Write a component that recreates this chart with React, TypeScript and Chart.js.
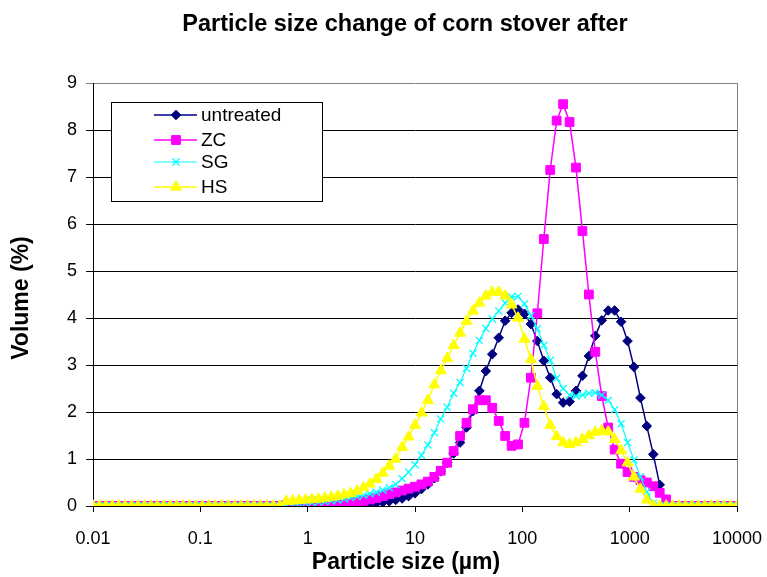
import React, { useEffect, useRef } from 'react';
import { Chart, registerables } from 'chart.js';

Chart.register(...registerables);

// Particle size classes (µm)
const SIZES = [
  0.01, 0.01148, 0.01318, 0.01514, 0.01738, 0.01995, 0.02291, 0.0263, 0.0302, 0.03467,
  0.03981, 0.04571, 0.05248, 0.06026, 0.06918, 0.07943, 0.0912, 0.1047, 0.1202, 0.138,
  0.1585, 0.182, 0.2089, 0.2399, 0.2754, 0.3162, 0.3631, 0.4169, 0.4786, 0.5495,
  0.631, 0.7244, 0.8318, 0.955, 1.096, 1.259, 1.445, 1.66, 1.905, 2.188,
  2.512, 2.884, 3.311, 3.802, 4.365, 5.012, 5.754, 6.607, 7.586, 8.71,
  10, 11.48, 13.18, 15.14, 17.38, 19.95, 22.91, 26.3, 30.2, 34.67,
  39.81, 45.71, 52.48, 60.26, 69.18, 79.43, 91.2, 104.7, 120.2, 138,
  158.5, 182, 208.9, 239.9, 275.4, 316.2, 363.1, 416.9, 478.6, 549.5,
  631, 724.4, 831.8, 955, 1096, 1259, 1445, 1660, 1905, 2188,
  2512, 2884, 3311, 3802, 4365, 5012, 5754, 6607, 7586, 8710,
  10000,
];

const UNTREATED = [
  0, 0, 0, 0, 0, 0, 0, 0, 0, 0,
  0, 0, 0, 0, 0, 0, 0, 0, 0, 0,
  0, 0, 0, 0, 0, 0, 0, 0, 0, 0,
  0, 0, 0, 0, 0, 0, 0, 0, 0.01, 0.01,
  0.02, 0.03, 0.04, 0.05, 0.06, 0.08, 0.1, 0.13, 0.16, 0.21,
  0.27, 0.36, 0.46, 0.59, 0.74, 0.92, 1.12, 1.35, 1.67, 2.02,
  2.45, 2.87, 3.23, 3.58, 3.94, 4.11, 4.18, 4.09, 3.87, 3.51,
  3.09, 2.73, 2.38, 2.2, 2.22, 2.45, 2.77, 3.19, 3.62, 3.95,
  4.16, 4.16, 3.92, 3.51, 2.96, 2.3, 1.7, 1.1, 0.45, 0,
  0, 0, 0, 0, 0, 0, 0, 0, 0, 0,
  0,
];

const ZC = [
  0, 0, 0, 0, 0, 0, 0, 0, 0, 0,
  0, 0, 0, 0, 0, 0, 0, 0, 0, 0,
  0, 0, 0, 0, 0, 0, 0, 0, 0, 0,
  0.02, 0.02, 0.03, 0.03, 0.03, 0.04, 0.04, 0.04, 0.05, 0.06,
  0.07, 0.09, 0.11, 0.14, 0.17, 0.21, 0.25, 0.29, 0.33, 0.37,
  0.41, 0.46, 0.52, 0.62, 0.75, 0.92, 1.17, 1.49, 1.77, 2.06,
  2.25, 2.25, 2.09, 1.81, 1.49, 1.28, 1.31, 1.77, 2.73, 4.1,
  5.68, 7.15, 8.2, 8.55, 8.17, 7.2, 5.85, 4.5, 3.28, 2.34,
  1.67, 1.2, 0.9, 0.72, 0.62, 0.55, 0.5, 0.42, 0.28, 0.14,
  0, 0, 0, 0, 0, 0, 0, 0, 0, 0,
  0,
];

const SG = [
  0, 0, 0, 0, 0, 0, 0, 0, 0, 0,
  0, 0, 0, 0, 0, 0, 0, 0, 0, 0,
  0, 0, 0, 0, 0, 0, 0, 0, 0, 0,
  0.03, 0.04, 0.05, 0.06, 0.07, 0.08, 0.09, 0.11, 0.13, 0.15,
  0.18, 0.2, 0.23, 0.26, 0.29, 0.34, 0.39, 0.46, 0.58, 0.72,
  0.88, 1.08, 1.3, 1.56, 1.85, 2.1, 2.4, 2.63, 2.93, 3.25,
  3.52, 3.78, 3.98, 4.15, 4.32, 4.45, 4.46, 4.3, 4.05, 3.77,
  3.42, 3.1, 2.72, 2.5, 2.36, 2.34, 2.36, 2.4, 2.41, 2.36,
  2.25, 2.05, 1.75, 1.35, 0.98, 0.62, 0.3, 0.06, 0, 0,
  0, 0, 0, 0, 0, 0, 0, 0, 0, 0,
  0,
];

const HS = [
  0, 0, 0, 0, 0, 0, 0, 0, 0, 0,
  0, 0, 0, 0, 0, 0, 0, 0, 0, 0,
  0, 0, 0, 0, 0, 0, 0, 0, 0, 0,
  0.1, 0.11, 0.12, 0.13, 0.14, 0.15, 0.17, 0.19, 0.21, 0.24,
  0.27, 0.32, 0.39, 0.47, 0.57, 0.7, 0.85, 1.0, 1.25, 1.47,
  1.72, 1.98, 2.25, 2.58, 2.88, 3.14, 3.42, 3.68, 3.93, 4.15,
  4.32, 4.47, 4.55, 4.55, 4.47, 4.28, 4.0, 3.55, 3.12, 2.55,
  2.12, 1.72, 1.48, 1.35, 1.31, 1.35, 1.42, 1.5, 1.57, 1.6,
  1.58, 1.42, 1.18, 0.92, 0.62, 0.36, 0.13, 0, 0, 0,
  0, 0, 0, 0, 0, 0, 0, 0, 0, 0,
  0,
];

const SERIES_NAMES = ['untreated', 'ZC', 'SG', 'HS'];
const X_TICKS = [0.01, 0.1, 1, 10, 100, 1000, 10000];
const Y_MIN = 0;
const Y_MAX = 9;
const TITLE = 'Particle size change of corn stover after';
const X_TITLE = 'Particle size (µm)';
const Y_TITLE = 'Volume (%)';

const FONT = '"Liberation Sans", Arial, sans-serif';

type Style = { color: string; point: string; radius: number; lineWidth: number; pointBorder: number };
const STYLES: Style[] = [
  { color: '#000080', point: 'rectRot', radius: 4.8, lineWidth: 1.5, pointBorder: 1 },
  { color: '#FF00FF', point: 'rect', radius: 6.2, lineWidth: 1.5, pointBorder: 1 },
  { color: '#00FFFF', point: 'crossRot', radius: 5, lineWidth: 1.2, pointBorder: 1.3 },
  { color: '#FFFF00', point: 'triangle', radius: 6.3, lineWidth: 1.5, pointBorder: 1 },
];

function drawMarker(ctx: CanvasRenderingContext2D, style: string, x: number, y: number, r: number) {
  ctx.beginPath();
  if (style === 'rectRot') {
    ctx.moveTo(x, y - r);
    ctx.lineTo(x + r, y);
    ctx.lineTo(x, y + r);
    ctx.lineTo(x - r, y);
    ctx.closePath();
    ctx.fill();
    ctx.stroke();
  } else if (style === 'rect') {
    const s = r * Math.SQRT1_2;
    ctx.rect(x - s, y - s, 2 * s, 2 * s);
    ctx.fill();
    ctx.stroke();
  } else if (style === 'crossRot') {
    const d = r * Math.SQRT1_2;
    ctx.moveTo(x - d, y - d);
    ctx.lineTo(x + d, y + d);
    ctx.moveTo(x + d, y - d);
    ctx.lineTo(x - d, y + d);
    ctx.stroke();
  } else if (style === 'triangle') {
    let a = 0;
    ctx.moveTo(x + Math.sin(a) * r, y - Math.cos(a) * r);
    a += (2 * Math.PI) / 3;
    ctx.lineTo(x + Math.sin(a) * r, y - Math.cos(a) * r);
    a += (2 * Math.PI) / 3;
    ctx.lineTo(x + Math.sin(a) * r, y - Math.cos(a) * r);
    ctx.closePath();
    ctx.fill();
    ctx.stroke();
  }
}

const decorPlugin = {
  id: 'decor',
  beforeDatasetsDraw(chart: any) {
    const { ctx, chartArea } = chart;
    ctx.save();
    ctx.strokeStyle = '#808080';
    ctx.lineWidth = 1;
    ctx.beginPath();
    ctx.moveTo(Math.round(chartArea.right) + 0.5, chartArea.top);
    ctx.lineTo(Math.round(chartArea.right) + 0.5, chartArea.bottom);
    ctx.stroke();
    ctx.restore();
  },
  afterDraw(chart: any) {
    const { ctx } = chart;
    ctx.save();
    // Title
    ctx.fillStyle = '#000';
    ctx.textAlign = 'center';
    ctx.textBaseline = 'middle';
    ctx.font = `bold 23.5px ${FONT}`;
    ctx.fillText(TITLE, 405, 25);
    // Axis titles
    ctx.font = `bold 23px ${FONT}`;
    ctx.fillText(X_TITLE, 406, 563);
    ctx.save();
    ctx.translate(22, 298);
    ctx.rotate(-Math.PI / 2);
    ctx.fillText(Y_TITLE, 0, 0);
    ctx.restore();

    // Legend
    const bx = 111, by = 102, bw = 211, bh = 99;
    ctx.fillStyle = '#fff';
    ctx.fillRect(bx, by, bw, bh);
    ctx.strokeStyle = '#000';
    ctx.lineWidth = 1;
    ctx.strokeRect(bx + 0.5, by + 0.5, bw, bh);
    const rows = [115, 140, 162, 187];
    ctx.textAlign = 'left';
    ctx.font = `19px ${FONT}`;
    SERIES_NAMES.forEach((name, i) => {
      const st = STYLES[i];
      const y = rows[i];
      ctx.strokeStyle = st.color;
      ctx.lineWidth = st.lineWidth;
      ctx.beginPath();
      ctx.moveTo(154, y);
      ctx.lineTo(197, y);
      ctx.stroke();
      ctx.fillStyle = st.color;
      ctx.lineWidth = st.pointBorder;
      drawMarker(ctx, st.point, 176, y, st.radius);
      ctx.fillStyle = '#000';
      ctx.fillText(name, 201, y + 1);
    });
    ctx.restore();
  },
};

export default function App() {
  const canvasRef = useRef<HTMLCanvasElement | null>(null);

  useEffect(() => {
    const canvas = canvasRef.current;
    if (!canvas) return;
    const seriesValues = [UNTREATED, ZC, SG, HS];
    const datasets = seriesValues.map((vals, i) => {
      const st = STYLES[i];
      return {
        label: SERIES_NAMES[i],
        data: SIZES.map((x, k) => ({ x, y: vals[k] })),
        borderColor: st.color,
        backgroundColor: st.color,
        borderWidth: st.lineWidth,
        pointStyle: st.point,
        pointRadius: st.radius,
        pointBackgroundColor: st.color,
        pointBorderColor: st.color,
        pointBorderWidth: st.pointBorder,
        tension: 0,
        fill: false,
        order: 4 - i,
      };
    });

    const chart = new Chart(canvas, {
      type: 'line',
      data: { datasets } as any,
      options: {
        animation: false,
        responsive: false,
        maintainAspectRatio: false,
        layout: { padding: { left: 0, top: 83, right: 30, bottom: 0 } },
        plugins: {
          legend: { display: false },
          tooltip: { enabled: false },
          title: { display: false },
        },
        scales: {
          x: {
            type: 'logarithmic',
            min: X_TICKS[0],
            max: X_TICKS[X_TICKS.length - 1],
            afterBuildTicks: (scale: any) => {
              scale.ticks = X_TICKS.map((v) => ({ value: v }));
            },
            afterFit: (scale: any) => {
              scale.height = 71;
              scale.paddingLeft = 0;
              scale.paddingRight = 0;
            },
            ticks: {
              autoSkip: false,
              maxRotation: 0,
              color: '#000',
              padding: 16,
              font: { family: FONT, size: 18 },
              callback: (v: any) => String(v),
            },
            grid: {
              drawOnChartArea: false,
              drawTicks: true,
              tickLength: 6,
              color: '#000',
            },
            border: { color: '#000', width: 1 },
          },
          y: {
            type: 'linear',
            min: Y_MIN,
            max: Y_MAX,
            afterFit: (scale: any) => {
              scale.width = 93;
              scale.paddingTop = 0;
              scale.paddingBottom = 0;
            },
            ticks: {
              stepSize: 1,
              color: '#000',
              padding: 9,
              font: { family: FONT, size: 18 },
            },
            grid: {
              drawTicks: true,
              tickLength: 7,
              color: (c: any) => (c.tick && c.tick.value === Y_MAX ? '#808080' : '#000'),
            },
            border: { color: '#000', width: 1 },
          },
        },
      } as any,
      plugins: [decorPlugin],
    });
    return () => chart.destroy();
  }, []);

  return (
    <div style={{ position: 'absolute', left: 0, top: 0, width: 767, height: 577, background: '#fff' }}>
      <canvas ref={canvasRef} width={767} height={577} />
    </div>
  );
}
